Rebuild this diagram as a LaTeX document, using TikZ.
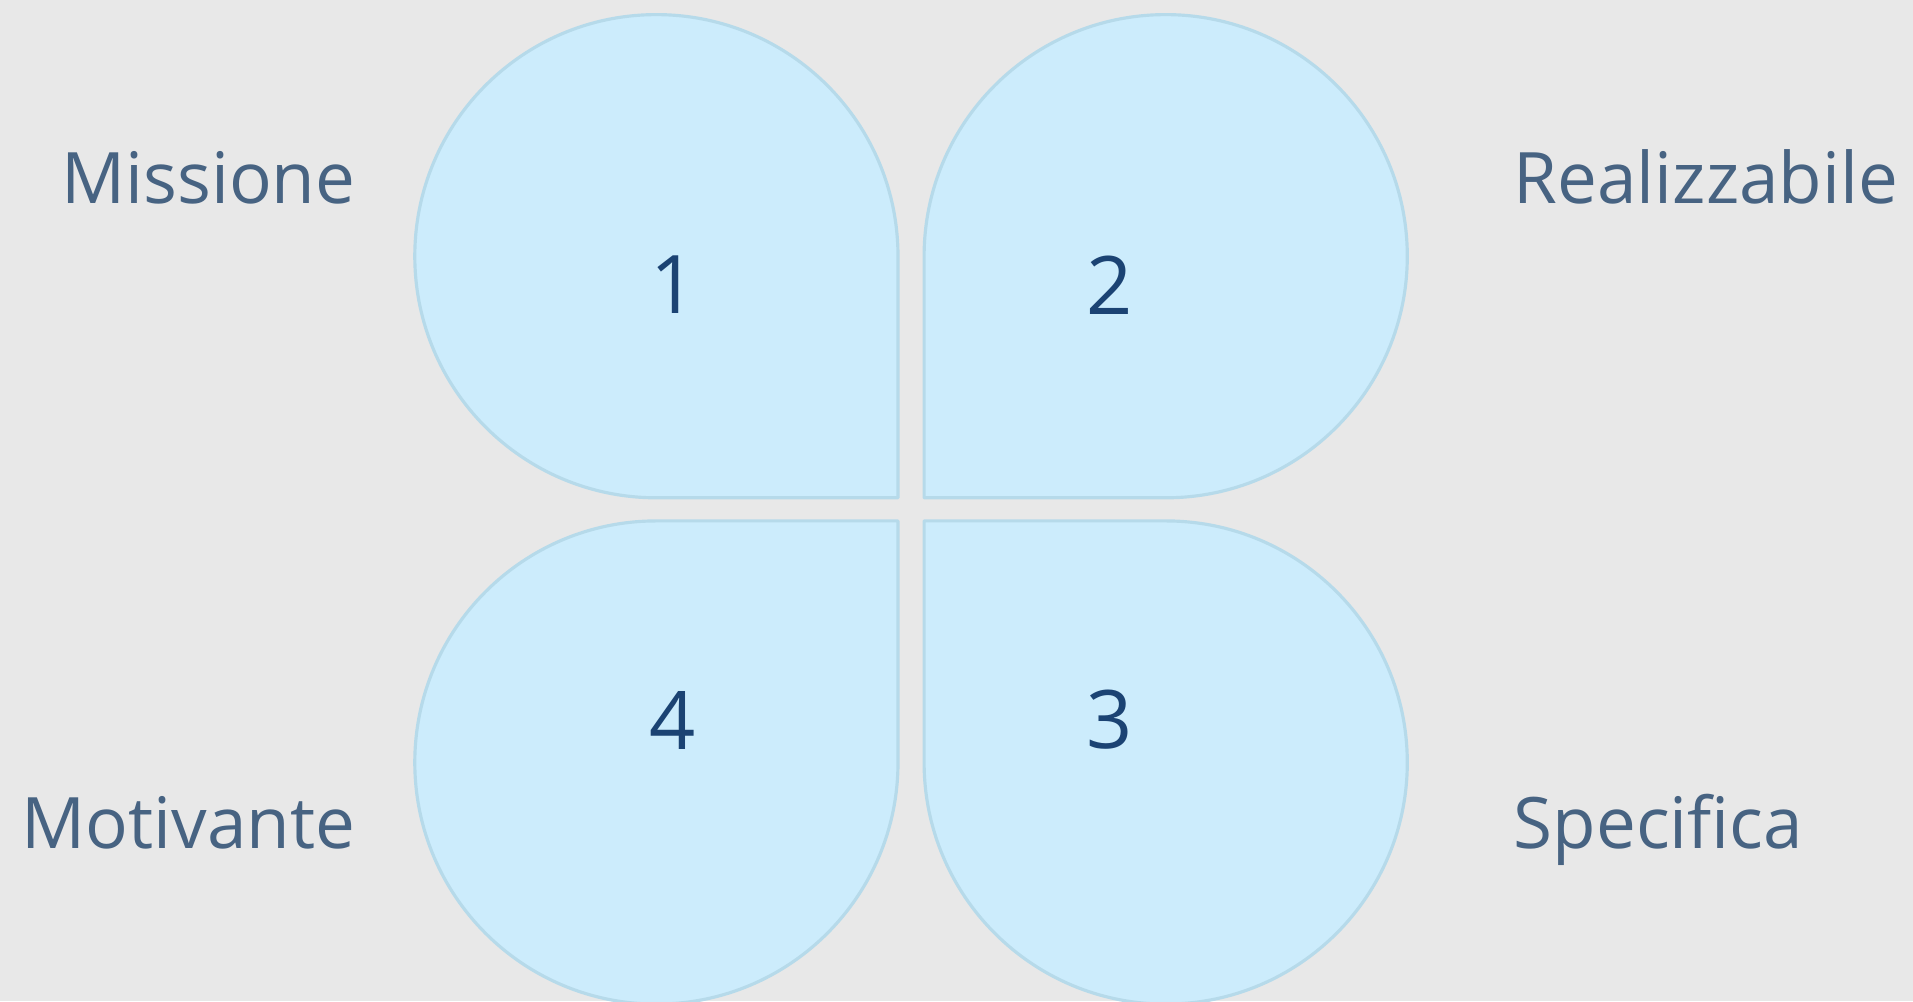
\documentclass[tikz,border=0pt]{standalone}
\usepackage{fontspec}
\setmainfont{Open Sans}
\definecolor{bgc}{HTML}{E8E8E8}
\definecolor{petalfill}{HTML}{CCECFC}
\definecolor{petaldraw}{HTML}{B6DAEA}
\definecolor{numc}{HTML}{1B4373}
\definecolor{labc}{HTML}{476382}
\begin{document}
\begin{tikzpicture}[
  petal/.style={fill=petalfill, draw=petaldraw, line width=0.9pt, line join=round},
  num/.style={text=numc, font=\fontsize{23}{26}\selectfont, inner sep=0pt},
  lab/.style={text=labc, font=\fontsize{20.2}{24}\selectfont, inner sep=0pt}
]
\fill[bgc] (0,0) rectangle (19.13,-10.01);
\useasboundingbox (0,0) rectangle (19.13,-10.01);
\def\R{2.416}
% shape 1 (top-left), bottom-right corner square
\path[petal] (6.564+\R,-2.562) arc[start angle=0, end angle=270, radius=\R] -- (6.564+\R,-2.562-\R) -- cycle;
% shape 2 (top-right), bottom-left corner square
\path[petal] (11.657,-2.562-\R) arc[start angle=-90, end angle=180, radius=\R] -- (11.657-\R,-2.562-\R) -- cycle;
% shape 4 (bottom-left), top-right corner square
\path[petal] (6.564,-7.625+\R) arc[start angle=90, end angle=360, radius=\R] -- (6.564+\R,-7.625+\R) -- cycle;
% shape 3 (bottom-right), top-left corner square
\path[petal] (11.657-\R,-7.625) arc[start angle=180, end angle=450, radius=\R] -- (11.657-\R,-7.625+\R) -- cycle;
\node[num] (n1) at (6.74,-2.85) {1};
\node[num] (n2) at (11.10,-2.85) {2};
\node[num] (n4) at (6.73,-7.20) {4};
\node[num] (n3) at (11.10,-7.20) {3};
\node[lab, anchor=base east] (l1) at (3.56,-2.03) {Missione};
\node[lab, anchor=base west] (l2) at (15.13,-2.03) {Realizzabile};
\node[lab, anchor=base east] (l4) at (3.56,-8.48) {Motivante};
\node[lab, anchor=base west] (l3) at (15.13,-8.48) {Specifica};
\end{tikzpicture}
\end{document}
